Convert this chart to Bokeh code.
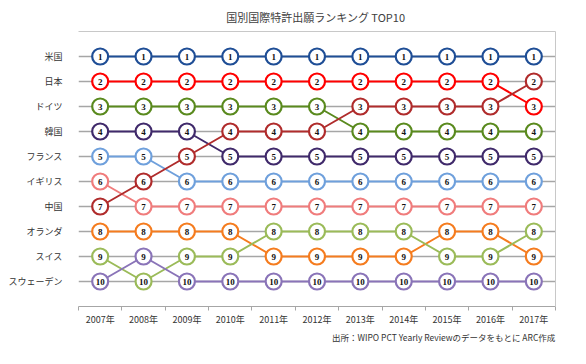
from bokeh.plotting import figure
from bokeh.models import Range1d, FixedTicker, LinearAxis, Title, ColumnDataSource
from bokeh.embed import file_html
from bokeh.resources import INLINE
from bokeh.core.properties import value

# ---- data ----
years = ["2007年", "2008年", "2009年", "2010年", "2011年", "2012年",
         "2013年", "2014年", "2015年", "2016年", "2017年"]
countries = ["米国", "日本", "ドイツ", "韓国", "フランス", "イギリス",
             "中国", "オランダ", "スイス", "スウェーデン"]
rank_us = [1, 1, 1, 1, 1, 1, 1, 1, 1, 1, 1]
rank_jp = [2, 2, 2, 2, 2, 2, 2, 2, 2, 2, 3]
rank_de = [3, 3, 3, 3, 3, 3, 4, 4, 4, 4, 4]
rank_kr = [4, 4, 4, 5, 5, 5, 5, 5, 5, 5, 5]
rank_fr = [5, 5, 6, 6, 6, 6, 6, 6, 6, 6, 6]
rank_uk = [6, 7, 7, 7, 7, 7, 7, 7, 7, 7, 7]
rank_cn = [7, 6, 5, 4, 4, 4, 3, 3, 3, 3, 2]
rank_nl = [8, 8, 8, 8, 9, 9, 9, 9, 8, 8, 9]
rank_ch = [9, 10, 9, 9, 8, 8, 8, 8, 9, 9, 8]
rank_se = [10, 9, 10, 10, 10, 10, 10, 10, 10, 10, 10]
ranks = [rank_us, rank_jp, rank_de, rank_kr, rank_fr, rank_uk,
         rank_cn, rank_nl, rank_ch, rank_se]
colors = ["#1F4E96", "#FF0000", "#5A8A1E", "#402A6B", "#6FA0DC",
          "#F07C7C", "#B02C2C", "#F57C1F", "#9BBB59", "#8A74B8"]

title_text = "国別国際特許出願ランキング  TOP10"
source_text = "出所：WIPO PCT Yearly Reviewのデータをもとに ARC作成"

JP = "Noto Sans CJK JP"
GRID = "#A6A6A6"

p = figure(frame_width=477, frame_height=275, output_backend="svg", toolbar_location=None,
           x_range=Range1d(-0.5, len(years) - 0.5),
           y_range=Range1d(len(countries) + 1, 0),
           min_border_left=78, min_border_right=12,
           min_border_top=24, min_border_bottom=46)
p.outline_line_color = None
p.background_fill_color = "white"
p.border_fill_color = "white"

p.title.text = title_text
p.title.align = "center"
p.title.text_font = JP
p.title.text_font_size = "11px"
p.title.text_font_style = "normal"
p.title.text_color = "#404040"
p.title.standoff = 13

xi = list(range(len(years)))
p.xaxis.ticker = FixedTicker(ticks=xi, minor_ticks=[i - 0.5 for i in range(len(years) + 1)])
p.xaxis.major_label_overrides = {i: y for i, y in enumerate(years)}
p.xaxis.major_tick_line_color = None
p.xaxis.minor_tick_in = 0
p.xaxis.minor_tick_out = 4
p.xaxis.minor_tick_line_color = GRID
p.xaxis.axis_line_color = GRID
p.xaxis.major_label_text_font = JP
p.xaxis.major_label_text_font_size = "9px"
p.xaxis.major_label_text_color = "#333333"
p.xaxis.major_label_standoff = 0

first = [r[0] for r in ranks]
p.yaxis.ticker = FixedTicker(ticks=sorted(first))
p.yaxis.major_label_overrides = {r: c for r, c in zip(first, countries)}
p.yaxis.axis_line_color = None
p.yaxis.major_tick_line_color = None
p.yaxis.minor_tick_line_color = None
p.yaxis.major_label_text_font = JP
p.yaxis.major_label_text_font_size = "9px"
p.yaxis.major_label_text_color = "#333333"
p.yaxis.major_label_standoff = 10

p.xgrid.grid_line_color = None
p.ygrid.ticker = FixedTicker(ticks=sorted(first))
p.ygrid.grid_line_color = GRID
p.ygrid.grid_line_width = 1.5

for side in ("right", "above"):
    ax = LinearAxis(ticker=FixedTicker(ticks=[]), axis_line_color="#C8C8C8",
                    major_tick_line_color=None, minor_tick_line_color=None)
    p.add_layout(ax, side)

for r, c in zip(ranks, colors):
    p.line(xi, r, line_color=c, line_width=2)

for r, c in zip(ranks, colors):
    src = ColumnDataSource(dict(x=xi, y=r, t=[str(v) for v in r]))
    p.scatter("x", "y", source=src, size=16, fill_color="white",
              line_color=c, line_width=2.2)
    p.text("x", "y", text="t", source=src, text_align="center",
           text_baseline="middle", text_font=value("Liberation Serif"),
           text_font_style="bold", text_font_size="9px", text_color="#111111")

p.add_layout(Title(text=source_text, align="right", text_font=JP,
                   text_font_size="8.5px", text_font_style="normal",
                   text_color="#333333", standoff=0), "below")

open("out.html", "w").write(file_html(p, INLINE))
